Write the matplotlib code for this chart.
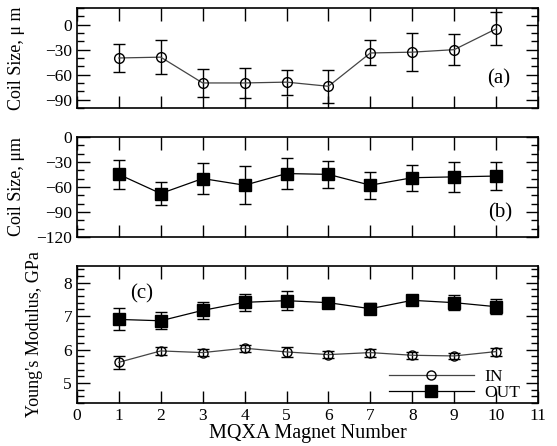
import numpy as np
import matplotlib
matplotlib.use("Agg")
import matplotlib.pyplot as plt
from matplotlib.ticker import MultipleLocator

magnet = [1, 2, 3, 4, 5, 6, 7, 8, 9, 10]

# (a) coil size, inner
size_in = [-40, -39, -70, -70, -69, -74, -34, -33, -30, -5]
size_in_err = [17, 20, 17, 18, 15, 20, 15, 23, 19, 20]

# (b) coil size, outer
size_out = [-45, -68, -50, -58, -44, -45, -58, -49, -48, -47]
size_out_err = [17, 14, 19, 23, 19, 16, 16, 15.5, 18, 17]

# (c) Young's modulus
E_out = [6.90, 6.86, 7.17, 7.41, 7.46, 7.40, 7.22, 7.47, 7.40, 7.28]
E_out_err = [0.33, 0.25, 0.25, 0.26, 0.28, 0.10, 0.17, 0.10, 0.23, 0.22]
E_in = [5.62, 5.96, 5.91, 6.04, 5.93, 5.85, 5.91, 5.83, 5.81, 5.94]
E_in_err = [0.20, 0.12, 0.10, 0.10, 0.16, 0.10, 0.12, 0.10, 0.10, 0.12]

plt.rcParams['font.family'] = ['Liberation Serif', 'DejaVu Serif']
plt.rcParams['font.size'] = 12

fig = plt.figure(figsize=(5.57, 4.46), dpi=100)
L, W = 0.138, 0.828
ax_a = fig.add_axes([L, 0.758, W, 0.224])
ax_b = fig.add_axes([L, 0.469, W, 0.224])
ax_c = fig.add_axes([L, 0.096, W, 0.308])


def style(ax):
    ax.set_xlim(0, 11)
    ax.xaxis.set_major_locator(MultipleLocator(1))
    ax.tick_params(which='both', direction='in', top=True, right=True, labelsize=12.5)
    ax.tick_params(which='major', length=9, width=1)
    ax.tick_params(which='minor', length=5, width=1)
    for s in ax.spines.values():
        s.set_linewidth(1.2)


eb = dict(ecolor='black', elinewidth=1, capsize=4, capthick=1)

# panel (a)
ax_a.errorbar(magnet, size_in, yerr=size_in_err, color='#444444', lw=0.9,
              marker='o', ms=7, mfc='none', mec='black', mew=1, **eb)
ax_a.set_ylim(-100, 20)
ax_a.yaxis.set_major_locator(MultipleLocator(30))
ax_a.yaxis.set_minor_locator(MultipleLocator(10))
style(ax_a)
ax_a.set_xticklabels([])
ax_a.set_yticks([0, -30, -60, -90])
ax_a.set_ylabel('Coil Size, μ m', fontsize=13)
ax_a.yaxis.set_label_coords(-0.113, 0.5)
ax_a.text(10.05, -65, '(a)', fontsize=15, ha='center', va='center')

# panel (b)
ax_b.errorbar(magnet, size_out, yerr=size_out_err, color='black', lw=0.9,
              marker='s', ms=8, mfc='black', mec='black', **eb)
ax_b.set_ylim(-120, 0)
ax_b.yaxis.set_major_locator(MultipleLocator(30))
ax_b.yaxis.set_minor_locator(MultipleLocator(10))
style(ax_b)
ax_b.set_xticklabels([])
ax_b.set_ylabel('Coil Size, μm', fontsize=13)
ax_b.yaxis.set_label_coords(-0.113, 0.5)
ax_b.text(10.1, -91, '(b)', fontsize=15, ha='center', va='center')

# panel (c)
ax_c.errorbar(magnet, E_in, yerr=E_in_err, color='#444444', lw=0.9,
              marker='o', ms=6.5, mfc='none', mec='black', mew=1, label='IN', **eb)
ax_c.errorbar(magnet, E_out, yerr=E_out_err, color='black', lw=0.9,
              marker='s', ms=8.5, mfc='black', mec='black', label='OUT', **eb)
ax_c.set_ylim(4.4, 8.5)
ax_c.yaxis.set_major_locator(MultipleLocator(1))
ax_c.yaxis.set_minor_locator(MultipleLocator(0.2))
style(ax_c)
ax_c.set_xticks(range(0, 12))
ax_c.set_xlabel('MQXA Magnet Number', fontsize=14.5, labelpad=0)
ax_c.set_ylabel("Young's Modulus, GPa", fontsize=13)
ax_c.yaxis.set_label_coords(-0.074, 0.5)
ax_c.text(1.55, 7.66, '(c)', fontsize=15, ha='center', va='center')

h, lab = ax_c.get_legend_handles_labels()
h = [x[0] for x in h]
ax_c.legend(h, lab, loc='lower right', frameon=False, handlelength=4.9,
            fontsize=12.5, labelspacing=-0.02, borderaxespad=0, borderpad=0,
            handletextpad=0.6, bbox_to_anchor=(0.961, 0.015))

fig.savefig('out.png', dpi=100)
